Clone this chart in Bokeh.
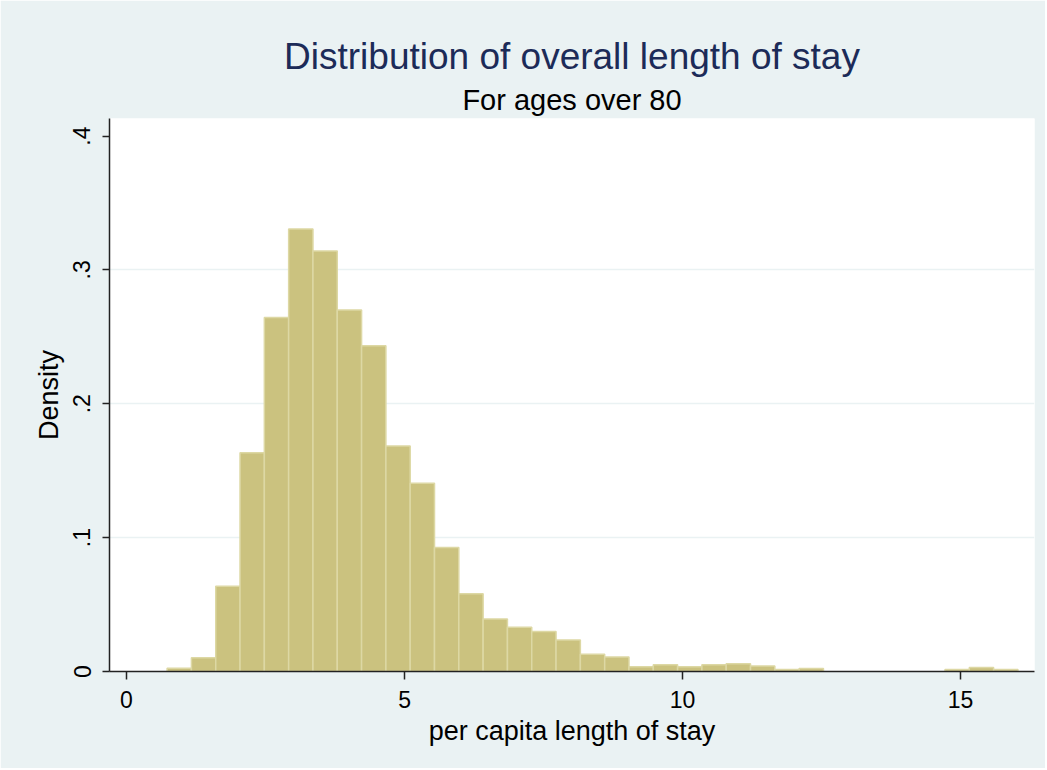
import math
from bokeh.plotting import figure
from bokeh.models import Range1d, FixedTicker, Title, ColumnDataSource
from bokeh.embed import file_html
from bokeh.resources import INLINE

# ---- data ----
bin_start = 0.73
bin_width = 0.4372
density = [0.0025, 0.0102, 0.0637, 0.1635, 0.2644, 0.3306, 0.3141, 0.2700,
           0.2433, 0.1685, 0.1407, 0.0926, 0.0580, 0.0393, 0.0331, 0.0299,
           0.0236, 0.0129, 0.0109, 0.0035, 0.0050, 0.0035, 0.0050, 0.0057,
           0.0042, 0.0015, 0.0022, 0.0, 0.0, 0.0, 0.0, 0.0,
           0.0015, 0.0030, 0.0015]
x_ticks = [0, 5, 10, 15]
y_ticks = [0, 0.1, 0.2, 0.3, 0.4]
y_tick_labels = ["0", ".1", ".2", ".3", ".4"]
title_text = "Distribution of overall length of stay"
subtitle_text = "For ages over 80"
x_label = "per capita length of stay"
y_label = "Density"

left, right, top = [], [], []
for k, d in enumerate(density):
    if d > 0:
        left.append(bin_start + k * bin_width)
        right.append(bin_start + (k + 1) * bin_width)
        top.append(d)
src = ColumnDataSource(dict(left=left, right=right, top=top, bottom=[0] * len(top)))

BG = "#EAF2F3"
FONT = "Liberation Sans"

p = figure(width=1045, height=768, output_backend="svg", toolbar_location=None,
           x_range=Range1d(-0.306, 16.33), y_range=Range1d(0, 0.4131),
           min_border_left=109, min_border_right=11, min_border_top=118,
           min_border_bottom=97)
p.title = None
p.background_fill_color = "white"
p.border_fill_color = BG
p.outline_line_color = None

p.quad(left="left", right="right", top="top", bottom="bottom", source=src,
       fill_color="#CBC27F", line_color="#DDD8A4", line_width=1.5)

# grid
p.xgrid.visible = False
p.ygrid.ticker = FixedTicker(ticks=[0.1, 0.2, 0.3])
p.ygrid.grid_line_color = BG
p.ygrid.grid_line_width = 1.6

# axes
for ax in (p.xaxis[0], p.yaxis[0]):
    ax.axis_line_color = "#222222"
    ax.axis_line_width = 1.5
    ax.major_tick_line_color = "#222222"
    ax.major_tick_line_width = 1.5
    ax.major_tick_in = 0
    ax.minor_tick_line_color = None
    ax.major_label_text_font = FONT
    ax.major_label_text_font_size = "23px"
    ax.major_label_text_color = "black"
    ax.axis_label_text_font = FONT
    ax.axis_label_text_font_size = "27px"
    ax.axis_label_text_font_style = "normal"
    ax.axis_label_text_color = "black"

p.xaxis.ticker = FixedTicker(ticks=x_ticks)
p.xaxis.major_tick_out = 8
p.xaxis.major_label_standoff = 11
p.xaxis.axis_label = x_label
p.xaxis.axis_label_standoff = 5

p.yaxis.ticker = FixedTicker(ticks=y_ticks)
p.yaxis.major_label_overrides = {t: l for t, l in zip(y_ticks, y_tick_labels)}
p.yaxis.major_label_orientation = "vertical"
p.yaxis.major_tick_out = 7
p.yaxis.major_label_standoff = 12
p.yaxis.axis_label = y_label
p.yaxis.axis_label_standoff = 7

# titles (added nearest-first)
p.add_layout(Title(text=subtitle_text, align="center", text_font=FONT,
                   text_font_size="29px", text_font_style="normal",
                   text_color="black", standoff=6), "above")
p.add_layout(Title(text=title_text, align="center", text_font=FONT,
                   text_font_size="37px", text_font_style="normal",
                   text_color="#1C2B58", standoff=3), "above")

open("out.html", "w").write(file_html(p, INLINE))
